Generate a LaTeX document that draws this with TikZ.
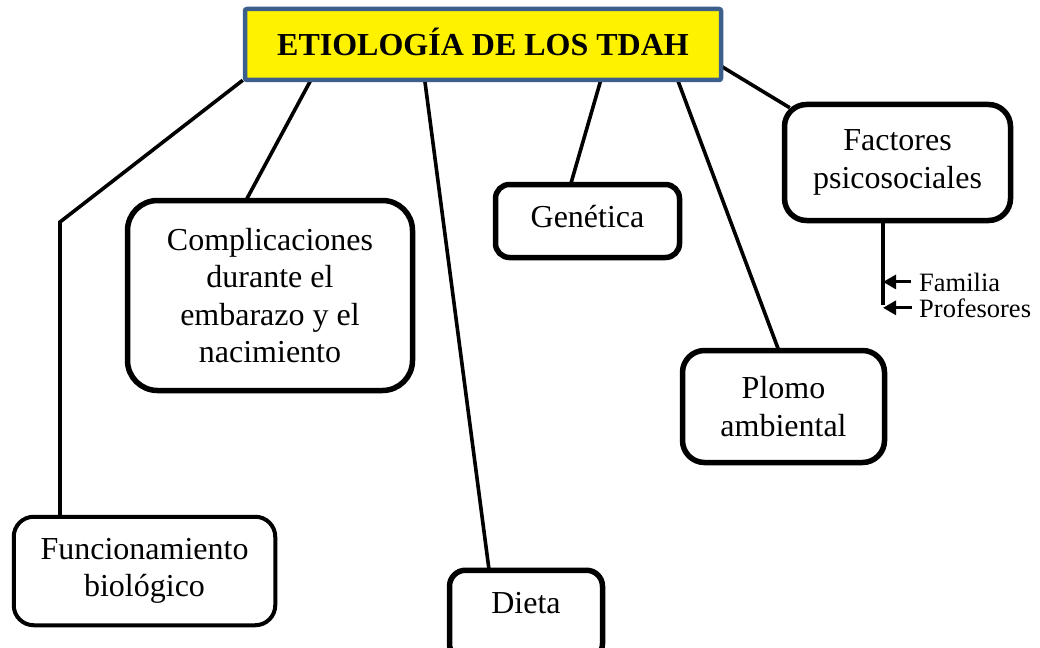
\documentclass[tikz,border=0pt]{standalone}
\usepackage{fontspec}
\setmainfont{Liberation Serif}
\usetikzlibrary{arrows.meta,calc,backgrounds}
\definecolor{titleblue}{RGB}{60,95,140}
\begin{document}
\begin{tikzpicture}[x=1pt,y=-1pt,
  box/.style={draw=black, line width=5.5pt, rounded corners=#1, fill=white,
    inner sep=0pt, align=center, font=\fontsize{32}{37.5}\selectfont},
  box/.default=20pt,
  conn/.style={line width=3.6pt},
  small/.style={font=\fontsize{26.5}{30}\selectfont, inner sep=0pt, anchor=base west},
  arr/.style={line width=3pt, -{Triangle[length=13pt,width=14pt]}}]
\clip (0,0) rectangle (1040,647);

% title
\node[draw=titleblue, line width=4.5pt, fill=yellow, rounded corners=2pt,
  minimum width=476pt, minimum height=71pt, inner sep=0pt,
  text height=22pt, text depth=0pt,
  font=\bfseries\fontsize{32}{38}\selectfont] (title) at (483,44.5) {ETIOLOGÍA DE LOS TDAH};

% boxes
\node[box=30pt, minimum width=285pt, minimum height=190pt] (comp) at (270,295.5)
  {Complicaciones\\durante el\\embarazo y el\\nacimiento};
\node[box=14pt, minimum width=184pt, minimum height=73pt, text depth=9pt] (gen) at (587.5,221) {Genética};
\node[box=22pt, minimum width=226pt, minimum height=116pt] (fact) at (897.5,162.5)
  {Factores\\psicosociales};
\node[box=22pt, minimum width=202pt, minimum height=112pt] (plomo) at (783.5,406.5)
  {Plomo\\ambiental};
\node[box=20pt, line width=4pt, minimum width=261.5pt, minimum height=108.5pt] (func) at (144.5,571)
  {Funcionamiento\\biológico};
\node[box=16pt, minimum width=153pt, minimum height=89.5pt, text height=22pt, text depth=26pt] (dieta) at (526,615) {Dieta};

% small labels
\node[small] (fam) at (919,291) {Familia};
\node[small] (prof) at (919,317) {Profesores};

\coordinate (bend) at (60,222);
\coordinate (vend) at (883,305);
\coordinate (vtop) at (vend |- fact.south);

\begin{scope}[on background layer]
  \fill[white] (0,0) rectangle (1040,647);
  \draw[conn, line join=miter] ($(title.south west)+(0,-2)$) -- (bend) -- ([yshift=-4pt]bend |- func.north);
  \draw[conn] ($(title.south west)+(68,-2)$) -- ($(comp.north west)+(120.5,4)$);
  \draw[conn] ($(title.south west)+(182,-2)$) -- ($(dieta.north west)+(42.5,4)$);
  \draw[conn] ($(title.south west)+(358,-2)$) -- ($(gen.north west)+(77.5,4)$);
  \draw[conn] ($(title.south west)+(435,-2)$) -- ($(plomo.north west)+(99.5,4)$);
  \draw[conn] ($(title.south east)+(-2,-16)$) -- ($(fact.north west)+(8,6)$);
  \draw[conn] ([yshift=4pt]vtop) -- (vend);
\end{scope}

\draw[arr] ([xshift=-8pt]fam.west) -- (fam.west -| vend);
\draw[arr] ([xshift=-7pt]prof.west) -- (prof.west -| vend);
\end{tikzpicture}
\end{document}
